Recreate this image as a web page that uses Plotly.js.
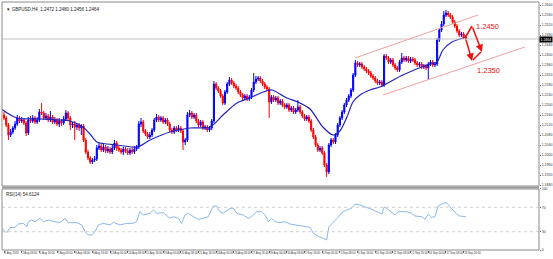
<!DOCTYPE html>
<html><head><meta charset="utf-8">
<script src="https://cdn.plot.ly/plotly-3.0.1.min.js"></script>
<style>html,body{margin:0;padding:0;background:#fff;}#chart{width:553px;height:259px;}</style>
</head><body><div id="chart"></div>
<script>
const open = [
1.2160,1.2148,1.2120,1.2080,1.2092,1.2108,1.2124,1.2148,1.2136,1.2140,
1.2128,1.2088,1.2140,1.2136,1.2148,1.2132,1.2140,1.2172,1.2168,1.2148,
1.2156,1.2140,1.2152,1.2132,1.2140,1.2124,1.2136,1.2128,1.2144,1.2168,
1.2148,1.2120,1.2124,1.2112,1.2120,1.2108,1.2116,1.2060,1.2012,1.1988,
1.1972,1.1980,1.1984,1.2028,1.2036,1.2020,1.2032,1.2016,1.2024,1.2012,
1.2028,1.2048,1.2028,1.2020,1.2012,1.2024,1.2016,1.2008,1.2020,1.2012,
1.2024,1.2032,1.2124,1.2132,1.2096,1.2084,1.2072,1.2080,1.2100,1.2140,
1.2152,1.2140,1.2148,1.2132,1.2140,1.2124,1.2100,1.2092,1.2108,1.2100,
1.2108,1.2096,1.2052,1.2060,1.2160,1.2168,1.2152,1.2160,1.2136,1.2120,
1.2132,1.2108,1.2112,1.2100,1.2108,1.2136,1.2284,1.2268,1.2256,1.2236,
1.2208,1.2252,1.2284,1.2300,1.2288,1.2276,1.2268,1.2252,1.2240,1.2228,
1.2236,1.2224,1.2232,1.2260,1.2292,1.2304,1.2308,1.2296,1.2284,1.2272,
1.2264,1.2212,1.2232,1.2220,1.2228,1.2208,1.2216,1.2200,1.2192,1.2200,
1.2180,1.2188,1.2172,1.2180,1.2192,1.2172,1.2156,1.2144,1.2152,1.2136,
1.2100,1.2072,1.2040,1.2020,1.2028,1.2008,1.1960,1.1932,1.2040,1.2060,
1.2052,1.2080,1.2120,1.2148,1.2172,1.2200,1.2220,1.2236,1.2260,1.2320,
1.2368,1.2360,1.2364,1.2352,1.2344,1.2336,1.2328,1.2316,1.2308,1.2296,
1.2288,1.2292,1.2280,1.2396,1.2388,1.2372,1.2380,1.2360,1.2348,1.2340,
1.2372,1.2388,1.2380,1.2388,1.2376,1.2384,1.2380,1.2368,1.2360,1.2364,
1.2352,1.2356,1.2348,1.2364,1.2372,1.2360,1.2364,1.2460,1.2500,1.2524,
1.2560,1.2568,1.2560,1.2552,1.2532,1.2516,1.2496,1.2480,1.2484,1.2472];
const high = [
1.2172,1.2156,1.2128,1.2104,1.2116,1.2136,1.2160,1.2156,1.2152,1.2148,
1.2136,1.2152,1.2156,1.2160,1.2156,1.2152,1.2184,1.2208,1.2176,1.2168,
1.2164,1.2176,1.2160,1.2152,1.2148,1.2148,1.2144,1.2156,1.2180,1.2176,
1.2156,1.2132,1.2136,1.2128,1.2128,1.2124,1.2124,1.2068,1.2020,1.1996,
1.1988,1.1996,1.2040,1.2048,1.2044,1.2044,1.2040,1.2036,1.2032,1.2040,
1.2060,1.2056,1.2036,1.2028,1.2032,1.2032,1.2028,1.2028,1.2032,1.2036,
1.2040,1.2136,1.2148,1.2140,1.2104,1.2092,1.2092,1.2108,1.2148,1.2164,
1.2160,1.2156,1.2156,1.2148,1.2148,1.2132,1.2108,1.2116,1.2116,1.2120,
1.2116,1.2104,1.2068,1.2172,1.2180,1.2176,1.2168,1.2168,1.2144,1.2140,
1.2140,1.2120,1.2120,1.2116,1.2144,1.2296,1.2292,1.2276,1.2264,1.2244,
1.2260,1.2292,1.2312,1.2308,1.2296,1.2284,1.2276,1.2260,1.2248,1.2244,
1.2244,1.2240,1.2268,1.2328,1.2316,1.2316,1.2316,1.2304,1.2292,1.2280,
1.2272,1.2240,1.2240,1.2236,1.2236,1.2224,1.2224,1.2208,1.2208,1.2208,
1.2196,1.2196,1.2188,1.2220,1.2200,1.2180,1.2164,1.2160,1.2160,1.2144,
1.2108,1.2080,1.2048,1.2036,1.2036,1.2016,1.1968,1.2048,1.2068,1.2068,
1.2088,1.2128,1.2156,1.2180,1.2208,1.2228,1.2244,1.2268,1.2328,1.2380,
1.2376,1.2372,1.2372,1.2360,1.2352,1.2344,1.2336,1.2324,1.2316,1.2304,
1.2300,1.2300,1.2404,1.2404,1.2396,1.2388,1.2388,1.2368,1.2356,1.2380,
1.2408,1.2396,1.2396,1.2396,1.2392,1.2392,1.2388,1.2376,1.2372,1.2372,
1.2364,1.2364,1.2372,1.2380,1.2380,1.2372,1.2468,1.2508,1.2536,1.2576,
1.2580,1.2576,1.2568,1.2560,1.2540,1.2524,1.2504,1.2492,1.2492,1.2480];
const low = [
1.2140,1.2112,1.2060,1.2072,1.2084,1.2100,1.2116,1.2128,1.2128,1.2120,
1.2076,1.2080,1.2128,1.2128,1.2124,1.2124,1.2132,1.2160,1.2140,1.2140,
1.2132,1.2132,1.2124,1.2124,1.2116,1.2112,1.2116,1.2120,1.2136,1.2140,
1.2100,1.2108,1.2060,1.2100,1.2096,1.2080,1.2052,1.2004,1.1980,1.1964,
1.1964,1.1972,1.1976,1.2020,1.2012,1.2012,1.2008,1.2008,1.2004,1.2004,
1.2020,1.2016,1.2012,1.2004,1.2000,1.2008,1.2000,1.2000,1.2004,1.2004,
1.2016,1.2024,1.2112,1.2088,1.2076,1.2064,1.2064,1.2072,1.2092,1.2132,
1.2132,1.2132,1.2124,1.2124,1.2116,1.2092,1.2084,1.2084,1.2092,1.2092,
1.2088,1.2020,1.2040,1.2052,1.2152,1.2144,1.2144,1.2128,1.2112,1.2112,
1.2100,1.2100,1.2092,1.2092,1.2100,1.2128,1.2260,1.2248,1.2228,1.2200,
1.2200,1.2244,1.2276,1.2280,1.2268,1.2260,1.2244,1.2232,1.2220,1.2220,
1.2216,1.2216,1.2224,1.2252,1.2284,1.2296,1.2288,1.2276,1.2264,1.2256,
1.2148,1.2204,1.2212,1.2212,1.2200,1.2200,1.2192,1.2184,1.2184,1.2172,
1.2172,1.2164,1.2164,1.2172,1.2164,1.2148,1.2136,1.2136,1.2128,1.2092,
1.2064,1.2032,1.2012,1.2012,1.2000,1.1952,1.1912,1.1924,1.2032,1.2044,
1.2044,1.2072,1.2112,1.2140,1.2164,1.2192,1.2212,1.2228,1.2252,1.2312,
1.2352,1.2352,1.2344,1.2336,1.2328,1.2320,1.2308,1.2300,1.2288,1.2280,
1.2280,1.2272,1.2272,1.2380,1.2364,1.2364,1.2352,1.2340,1.2332,1.2332,
1.2364,1.2372,1.2372,1.2368,1.2368,1.2372,1.2360,1.2352,1.2352,1.2344,
1.2344,1.2340,1.2300,1.2356,1.2352,1.2352,1.2356,1.2452,1.2492,1.2516,
1.2552,1.2552,1.2544,1.2524,1.2508,1.2488,1.2472,1.2472,1.2464,1.2456];
const close = [
1.2148,1.2120,1.2080,1.2092,1.2108,1.2124,1.2148,1.2136,1.2140,1.2128,
1.2088,1.2140,1.2136,1.2148,1.2132,1.2140,1.2172,1.2168,1.2148,1.2156,
1.2140,1.2152,1.2132,1.2140,1.2124,1.2136,1.2128,1.2144,1.2168,1.2148,
1.2120,1.2124,1.2112,1.2120,1.2108,1.2116,1.2060,1.2012,1.1988,1.1972,
1.1980,1.1984,1.2028,1.2036,1.2020,1.2032,1.2016,1.2024,1.2012,1.2028,
1.2048,1.2028,1.2020,1.2012,1.2024,1.2016,1.2008,1.2020,1.2012,1.2024,
1.2032,1.2124,1.2132,1.2096,1.2084,1.2072,1.2080,1.2100,1.2140,1.2152,
1.2140,1.2148,1.2132,1.2140,1.2124,1.2100,1.2092,1.2108,1.2100,1.2108,
1.2096,1.2052,1.2060,1.2160,1.2168,1.2152,1.2160,1.2136,1.2120,1.2132,
1.2108,1.2112,1.2100,1.2108,1.2136,1.2284,1.2268,1.2256,1.2236,1.2208,
1.2252,1.2284,1.2300,1.2288,1.2276,1.2268,1.2252,1.2240,1.2228,1.2236,
1.2224,1.2232,1.2260,1.2292,1.2304,1.2308,1.2296,1.2284,1.2272,1.2264,
1.2212,1.2232,1.2220,1.2228,1.2208,1.2216,1.2200,1.2192,1.2200,1.2180,
1.2188,1.2172,1.2180,1.2192,1.2172,1.2156,1.2144,1.2152,1.2136,1.2100,
1.2072,1.2040,1.2020,1.2028,1.2008,1.1960,1.1932,1.2040,1.2060,1.2052,
1.2080,1.2120,1.2148,1.2172,1.2200,1.2220,1.2236,1.2260,1.2320,1.2368,
1.2360,1.2364,1.2352,1.2344,1.2336,1.2328,1.2316,1.2308,1.2296,1.2288,
1.2292,1.2280,1.2396,1.2388,1.2372,1.2380,1.2360,1.2348,1.2340,1.2372,
1.2388,1.2380,1.2388,1.2376,1.2384,1.2380,1.2368,1.2360,1.2364,1.2352,
1.2356,1.2348,1.2364,1.2372,1.2360,1.2364,1.2460,1.2500,1.2524,1.2560,
1.2568,1.2560,1.2552,1.2532,1.2516,1.2496,1.2480,1.2484,1.2472,1.2464];

const maX = [-0.9,5.9,16.3,25.3,29.9,35.7,38.9,42.1,46.6,51.1,60.2,66.1,75.1,84.2,93.2,99.1,105.4,111.3,117.2,121.3,127.1,133.9,138.5,144.3,148.9,152,155.2,157.9,161.1,165.6,170.1,180.5,191.4,195.9,198.6,202.7,207.7,209];
const maVal = [1.2182,1.2148,1.2144,1.2140,1.2136,1.2112,1.2084,1.2052,1.2044,1.2040,1.2032,1.2060,1.2092,1.2108,1.2112,1.2160,1.2208,1.2228,1.2252,1.2260,1.2232,1.2208,1.2184,1.2112,1.2080,1.2096,1.2152,1.2212,1.2240,1.2260,1.2272,1.2320,1.2360,1.2372,1.2420,1.2452,1.2468,1.2472];

const rsiX = [-0.9,-0.3,1.2,2.7,5.0,6.5,8.7,10.3,11.0,12.5,14.0,16.3,17.8,20.0,23.1,25.3,27.6,29.1,32.9,35.2,36.7,38.1,39.7,41.2,42.7,44.9,48.0,49.5,52.5,55.5,58.5,60.0,61.5,63.0,66.1,67.6,69.1,72.1,75.1,76.6,78.9,80.4,81.9,83.4,85.7,87.9,90.2,92.4,94.7,96.2,97.7,99.2,102.3,103.8,105.3,108.3,110.5,112.1,114.3,116.6,118.1,119.6,121.1,122.6,124.9,127.1,129.4,132.4,135.4,138.5,140.0,142.2,144.5,146.0,147.0,149.0,151.3,152.8,155.1,157.3,158.8,161.1,164.1,167.1,171.0,172.0,173.2,174.7,176.9,178.4,182.2,184.5,186.0,189.0,190.5,192.0,193.5,195.0,196.5,198.8,200.3,201.8,203.3,204.8,206.3,207.8,209.0];
const rsiVal = [35.6,32.8,28.4,36.6,37.2,42.6,43.7,38.2,46.4,49.2,46.4,52.0,46.4,49.2,46.4,44.8,52.0,44.8,44.8,41.0,30.0,24.6,24.6,30.0,41.0,43.7,41.0,45.4,41.0,43.7,43.7,46.4,62.8,57.4,60.2,65.6,60.2,61.2,52.0,54.6,52.0,43.7,57.4,60.2,54.6,50.3,52.0,54.6,72.1,72.1,62.8,60.2,68.4,68.4,60.2,57.4,52.0,54.6,62.8,62.8,57.4,46.4,52.0,46.4,44.8,46.4,42.6,41.0,39.3,37.2,27.3,22.5,19.0,16.4,38.0,44.8,53.6,61.2,65.6,68.4,75.4,73.8,70.0,65.6,59.0,70.0,68.4,64.4,57.4,62.8,62.8,60.2,55.7,54.6,50.3,59.0,53.6,54.6,72.1,76.6,77.5,71.0,64.4,59.0,55.7,54.6,54.6];

const tickBars = [0,8,16,24,32,40,48,56,64,72,80,88,96,104,112,120,128,136,144,152,160,168,176,184,192,200,208];
const tickLabels = ["1 Aug 2019","2 Aug 08:00","5 Aug 16:00","7 Aug 00:00","8 Aug 08:00","9 Aug 16:00","13 Aug 00:00","14 Aug 08:00","15 Aug 16:00","19 Aug 00:00","20 Aug 08:00","21 Aug 16:00","23 Aug 00:00","26 Aug 08:00","27 Aug 16:00","29 Aug 00:00","30 Aug 08:00","2 Sep 16:00","4 Sep 00:00","5 Sep 08:00","6 Sep 16:00","10 Sep 00:00","11 Sep 08:00","12 Sep 16:00","16 Sep 00:00","17 Sep 08:00","18 Sep 16:00"];
const lastPrice = 1.2464;

const idx = close.map((_, i) => i);
const F = 'Liberation Sans, Arial, sans-serif';

const traces = [
  {type:'candlestick', x: idx, open, high, low, close, xaxis:'x', yaxis:'y',
   increasing:{line:{color:'#0000ff', width:1}, fillcolor:'#0000ff'},
   decreasing:{line:{color:'#ff0000', width:1}, fillcolor:'#ff0000'},
   whiskerwidth:0, hoverinfo:'skip', showlegend:false},
  {type:'scatter', mode:'lines', x: maX, y: maVal, xaxis:'x', yaxis:'y',
   line:{color:'#2222bb', width:1.2, shape:'spline', smoothing:0.8}, hoverinfo:'skip', showlegend:false},
  {type:'scatter', mode:'lines', x: rsiX, y: rsiVal, xaxis:'x', yaxis:'y2',
   line:{color:'#8ab8ea', width:1}, hoverinfo:'skip', showlegend:false}
];

const red = '#ee1111';
const layout = {
  width:553, height:259,
  margin:{l:2, r:14, t:2, b:9},
  paper_bgcolor:'#ffffff', plot_bgcolor:'#ffffff',
  font:{family:F, size:4, color:'#333'},
  showlegend:false,
  xaxis:{domain:[0,1], range:[-0.905, 242.1], anchor:'y2', showgrid:false, zeroline:false,
    rangeslider:{visible:false}, tickmode:'array', tickvals: tickBars, ticktext: tickLabels,
    ticks:'outside', ticklen:1.5, tickcolor:'#666', ticklabelposition:'outside right', tickangle:0,
    tickfont:{size:2.8, color:'#333', family:F}, showline:false, fixedrange:true},
  yaxis:{domain:[0.258,1], range:[1.1876, 1.2612], side:'right', showgrid:false, zeroline:false,
    tick0:1.1880, dtick:0.004, tickformat:'.4f', ticks:'outside', ticklen:1, tickcolor:'#666',
    tickfont:{size:3.5, color:'#333', family:F}, showline:false, fixedrange:true},
  yaxis2:{domain:[0,0.246], range:[0,100], side:'right', anchor:'x', showgrid:false, zeroline:false,
    tickmode:'array', tickvals:[0,30,70,100], ticktext:['0','30','70','100'],
    ticks:'outside', ticklen:1, tickcolor:'#666', tickfont:{size:3.5, color:'#333', family:F},
    showline:false, fixedrange:true},
  shapes:[
    {type:'line', xref:'paper', yref:'y', x0:0, x1:1, y0:lastPrice, y1:lastPrice, line:{color:'#c4c4c4', width:1}},
    {type:'line', xref:'paper', yref:'y2', x0:0, x1:1, y0:70, y1:70, line:{color:'#d0d0d0', width:1, dash:'dot'}},
    {type:'line', xref:'paper', yref:'y2', x0:0, x1:1, y0:30, y1:30, line:{color:'#d0d0d0', width:1, dash:'dot'}},
    {type:'rect', xref:'paper', yref:'paper', x0:0, x1:1, y0:0.258, y1:1, line:{color:'#8a8a8a', width:1}},
    {type:'rect', xref:'paper', yref:'paper', x0:0, x1:1, y0:0, y1:0.246, line:{color:'#8a8a8a', width:1}},
    {type:'line', xref:'paper', yref:'paper', x0:0, x1:1, y0:0.252, y1:0.252, line:{color:'#9a9a9a', width:2}},
    {type:'line', xref:'x', yref:'y', x0:158.8, y0:1.2388, x1:214.5, y1:1.2560, line:{color:'#f2a0a0', width:1}},
    {type:'line', xref:'x', yref:'y', x0:171.5, y0:1.2240, x1:235.7, y1:1.2432, line:{color:'#f2a0a0', width:1}},
    {type:'line', xref:'x', yref:'y', x0:208.6, y0:1.2468, x1:211.8, y1:1.2516, line:{color:red, width:1.5}},
    {type:'line', xref:'x', yref:'y', x0:212.2, y0:1.2380, x1:215.8, y1:1.2412, line:{color:red, width:1.5}}
  ],
  annotations:[
    {xref:'paper', yref:'paper', x:0.004, y:1, yshift:-3, xanchor:'left', yanchor:'top', showarrow:false,
     text:'▼ GBPUSD,H4  1.2472 1.2480 1.2456 1.2464', font:{size:4.5, color:'#222', family:F}},
    {xref:'paper', yref:'paper', x:0.004, y:0.246, yshift:-1, xanchor:'left', yanchor:'top', showarrow:false,
     text:'RSI(14) 54.6124', font:{size:4.5, color:'#222', family:F}},
    {xref:'paper', yref:'y', x:1, y:lastPrice, xanchor:'left', yanchor:'middle', showarrow:false,
     text:lastPrice.toFixed(4), bgcolor:'#000', borderpad:0.5, font:{size:3.5, color:'#fff', family:F}},
    {xref:'x', yref:'y', x:216.3, y:1.2412, axref:'x', ayref:'y', ax:211.8, ay:1.2516, showarrow:true,
     arrowhead:2, arrowsize:1, arrowwidth:1.5, arrowcolor:red, text:''},
    {xref:'x', yref:'y', x:211.8, y:1.2376, axref:'x', ayref:'y', ax:209.0, ay:1.2464, showarrow:true,
     arrowhead:2, arrowsize:1, arrowwidth:1.5, arrowcolor:red, text:''},
    {xref:'x', yref:'y', x:218.6, y:1.2516, showarrow:false, text:'1.2450', font:{size:7.5, color:red, family:F}},
    {xref:'x', yref:'y', x:219.3, y:1.2340, showarrow:false, text:'1.2350', font:{size:7.5, color:red, family:F}}
  ]
};
Plotly.newPlot('chart', traces, layout, {staticPlot:true, displayModeBar:false});
</script></body></html>
